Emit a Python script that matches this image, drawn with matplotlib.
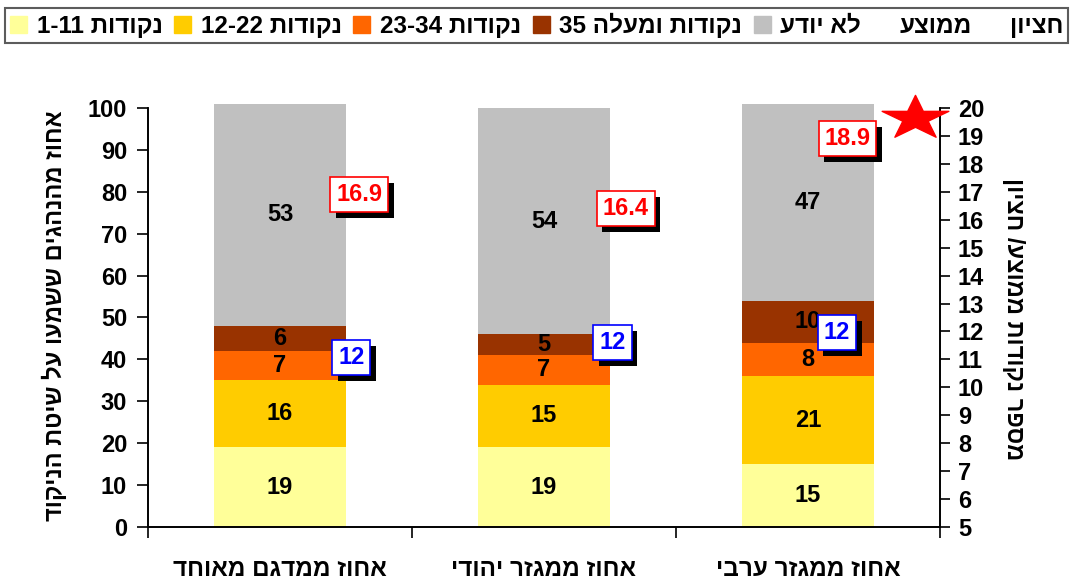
import re
import matplotlib
matplotlib.use("Agg")
import matplotlib.pyplot as plt
import matplotlib.patheffects as pe
from matplotlib.lines import Line2D
from matplotlib.patches import Patch
from matplotlib.path import Path
import numpy as np

plt.rcParams['font.family'] = ['Liberation Sans', 'DejaVu Sans']
plt.rcParams['font.weight'] = 'bold'


def rtl(s):
    # matplotlib has no bidi: flip hebrew, keep numbers left-to-right
    r = s[::-1]
    return re.sub(r'[0-9][0-9.\-]*', lambda m: m.group(0)[::-1], r)


categories = ["אחוז ממדגם מאוחד", "אחוז ממגזר יהודי", "אחוז ממגזר ערבי"]
series_names = ["נקודות 1-11", "נקודות 12-22", "נקודות 23-34", "נקודות ומעלה 35", "לא יודע"]
pts_1_11 = [19, 19, 15]
pts_12_22 = [16, 15, 21]
pts_23_34 = [7, 7, 8]
pts_35_up = [6, 5, 10]
dont_know = [53, 54, 47]
mean_score = [16.9, 16.4, 18.9]
median_score = [12, 12, 12]

colors = ["#FFFF99", "#FFCC00", "#FF6600", "#993300", "#C0C0C0"]

fig = plt.figure(figsize=(10.76, 5.8), dpi=100)
ax = fig.add_axes([0.1375, 0.0914, 0.736, 0.7224])
ax2 = ax.twinx()

x = np.arange(len(categories))
bottom = np.zeros(len(categories))
for vals, col in zip([pts_1_11, pts_12_22, pts_23_34, pts_35_up, dont_know], colors):
    vals = np.array(vals, dtype=float)
    ax.bar(x, vals, width=0.5, bottom=bottom, color=col, clip_on=False, zorder=2)
    for xi, b, v in zip(x, bottom, vals):
        ax.text(xi, b + v / 2, str(int(v)), ha='center', va='center',
                fontsize=17, fontweight='bold', zorder=3)
    bottom += vals

ax.set_xlim(-0.5, 2.5)
ax.set_ylim(0, 100)
ax.set_yticks(range(0, 101, 10))
ax2.set_ylim(5, 20)
ax2.set_yticks(range(5, 21))

ax.set_xticks([-0.5, 0.5, 1.5, 2.5])
ax.set_xticklabels([])
ax.set_xticks(x, minor=True)
ax.set_xticklabels([rtl(c) for c in categories], minor=True, fontsize=17.5, fontweight='bold')
ax.tick_params(axis='x', which='major', length=8, width=1.2)
ax.tick_params(axis='x', which='minor', length=0, pad=22)
ax.tick_params(axis='y', length=8, width=1.2, labelsize=17, pad=7)
ax2.tick_params(axis='y', length=7, width=1.2, labelsize=17, pad=6)
for a in (ax, ax2):
    a.spines['top'].set_visible(False)
    for s in ('left', 'right', 'bottom'):
        a.spines[s].set_linewidth(1.2)
    for lab in a.get_yticklabels():
        lab.set_fontweight('bold')

fig.text(0.051, 0.455, rtl("אחוז מהנהגים ששמעו על שיטת הניקוד"), rotation=90,
         ha='center', va='center', fontsize=17, fontweight='bold')
fig.text(0.9415, 0.45, rtl("מספר נקודות ממוצע/ חציון"), rotation=270,
         ha='center', va='center', fontsize=17, fontweight='bold')

# value boxes for mean (red) and median (blue)
mean_dx = [0.30, 0.31, 0.15]
median_dx = [0.27, 0.26, 0.11]
median_dy = [-19, -8, -1]
shadow = [pe.withSimplePatchShadow(offset=(4, -4), shadow_rgbFace='black', alpha=1)]
for i in range(len(categories)):
    t = ax2.annotate(f"{mean_score[i]:.1f}", xy=(x[i] + mean_dx[i], mean_score[i]),
                     ha='center', va='center', fontsize=17, fontweight='bold', color='#FF0000',
                     bbox=dict(boxstyle='square,pad=0.25', fc='white', ec='#FF0000', lw=1.2),
                     zorder=5)
    t.get_bbox_patch().set_path_effects(shadow)
    t = ax2.annotate(f"{median_score[i]}", xy=(x[i] + median_dx[i], median_score[i]),
                     xytext=(0, median_dy[i]), textcoords='offset points',
                     ha='center', va='center', fontsize=17, fontweight='bold', color='#0000FF',
                     bbox=dict(boxstyle='square,pad=0.25', fc='white', ec='#0000FF', lw=1.2),
                     zorder=5)
    t.get_bbox_patch().set_path_effects(shadow)

# flattened star in the top right corner
star = Path.unit_regular_star(5, 0.38)
star = Path(star.vertices * np.array([1.0, 0.66]), star.codes)
ax2.plot([0.968], [0.975], marker=star, markersize=48, color='#FF0000', mec='#FF0000',
         transform=ax2.transAxes, clip_on=False, zorder=6)

handles = [Patch(color=c) for c in colors]
handles += [Line2D([], [], linestyle='none'), Line2D([], [], linestyle='none')]
labels = [rtl(s) for s in series_names] + [rtl("ממוצע"), rtl("חציון")]
leg = fig.legend(handles, labels, loc='center', ncol=7, mode='expand',
                 bbox_to_anchor=(0.0046, 0.926, 0.988, 0.06), borderaxespad=0,
                 prop={'size': 17.5, 'weight': 'bold'}, handlelength=0.7, handleheight=0.7,
                 handletextpad=0.4, columnspacing=0.8, fancybox=False, frameon=True,
                 borderpad=0.2)
leg.get_frame().set_edgecolor('#333333')
leg.get_frame().set_linewidth(1.5)

fig.savefig("out.png", dpi=100)
